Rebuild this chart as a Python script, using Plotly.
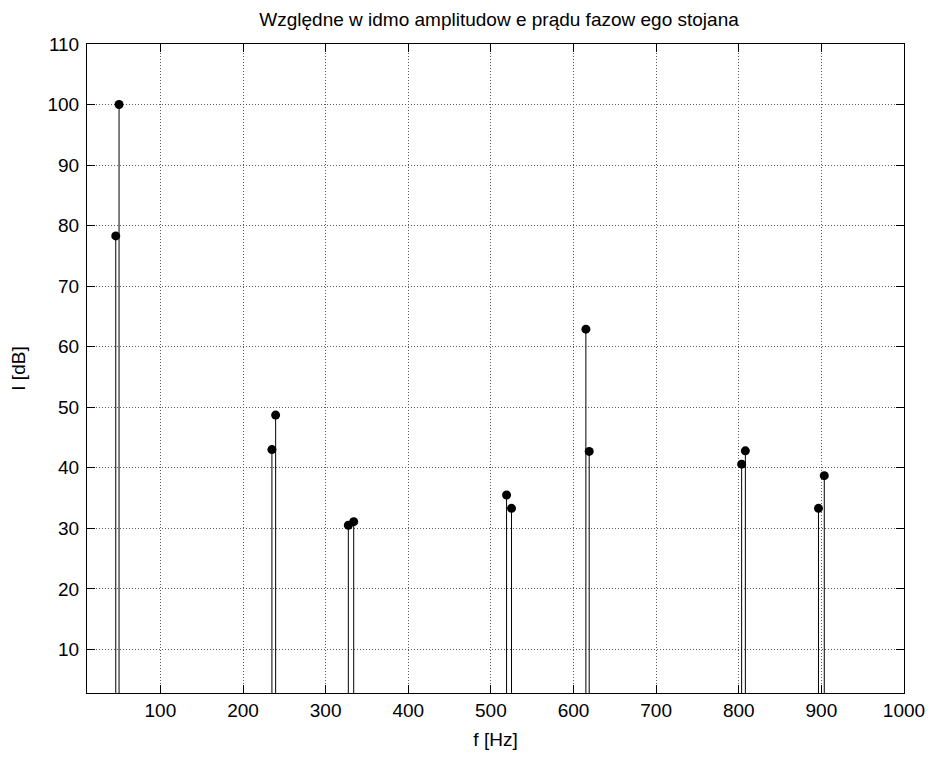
import plotly.graph_objects as go

# Relative amplitude spectrum of stator phase current (stem plot)
freq_hz = [46, 50, 235, 239.5, 327.5, 334, 519, 525, 615, 619, 803.5, 808, 896.5, 903.5]
level_db = [78.3, 100, 43.0, 48.7, 30.5, 31.1, 35.5, 33.3, 62.9, 42.7, 40.6, 42.8, 33.3, 38.7]

x_ticks = [100, 200, 300, 400, 500, 600, 700, 800, 900, 1000]
y_ticks = [10, 20, 30, 40, 50, 60, 70, 80, 90, 100, 110]

title_text = "Względne w idmo amplitudow e prądu fazow ego stojana"
x_title = "f [Hz]"
y_title = "I [dB]"

FONT = "Liberation Sans, Arial, Helvetica, sans-serif"

# stems run from the zero baseline up to each value
stem_x, stem_y = [], []
for f, v in zip(freq_hz, level_db):
    stem_x += [f, f, None]
    stem_y += [0, v, None]

fig = go.Figure()
fig.add_trace(go.Scatter(
    x=stem_x, y=stem_y, mode="lines",
    line=dict(color="black", width=1),
    hoverinfo="skip", showlegend=False,
))
fig.add_trace(go.Scatter(
    x=freq_hz, y=level_db, mode="markers",
    marker=dict(color="black", size=9, line=dict(width=0)),
    showlegend=False,
))

axis_common = dict(
    showline=True, linecolor="black", linewidth=1,
    mirror="ticks", ticks="inside", ticklen=8, tickwidth=1, tickcolor="black",
    showgrid=True, gridcolor="#5a5a5a", gridwidth=1, griddash="1px,2px",
    zeroline=False,
    tickfont=dict(family=FONT, size=19, color="black"),
)

fig.update_xaxes(
    range=[11.2, 1000], tickvals=x_ticks, ticktext=[str(t) for t in x_ticks],
    title=dict(text=x_title, font=dict(family=FONT, size=19, color="black"), standoff=12),
    **axis_common,
)
fig.update_yaxes(
    range=[2.8, 110], tickvals=y_ticks, ticktext=[str(t) for t in y_ticks],
    ticklabelstandoff=3,
    title=dict(text=y_title, font=dict(family=FONT, size=19, color="black"), standoff=16),
    **axis_common,
)

fig.update_layout(
    width=937, height=758,
    margin=dict(l=87, r=26, t=44, b=64),
    paper_bgcolor="white", plot_bgcolor="white",
    title=dict(text=title_text, x=0.5326, xanchor="center", y=0.975, yanchor="middle",
               font=dict(family=FONT, size=19, color="black")),
    font=dict(family=FONT, color="black"),
)

fig.write_html("out.html")
